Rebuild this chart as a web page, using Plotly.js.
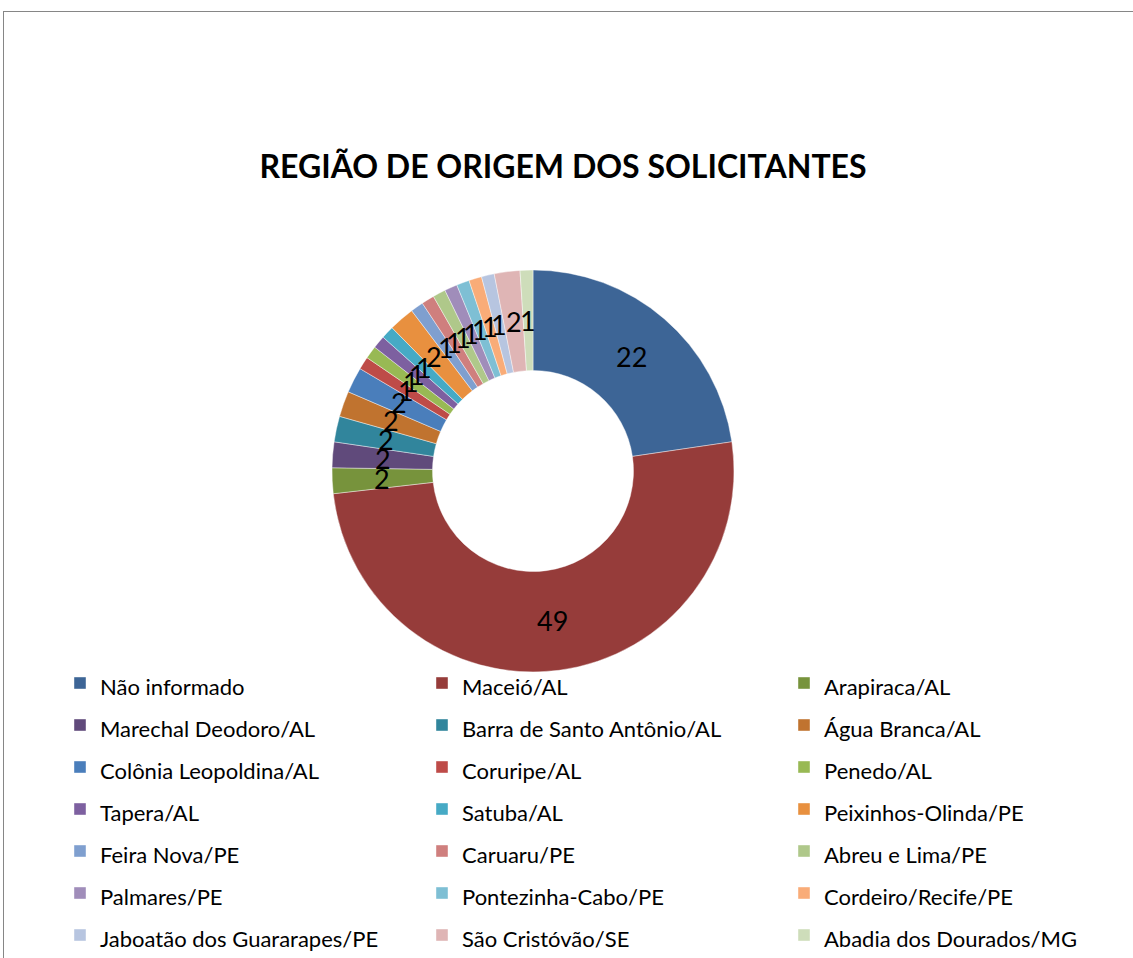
<!DOCTYPE html>
<html>
<head>
<meta charset="utf-8">
<script src="https://cdn.plot.ly/plotly-3.0.1.min.js"></script>
<style>
  html, body { margin: 0; padding: 0; background: #fff; overflow: hidden; }
  #frame { position: absolute; left: 3px; top: 11px; width: 1200px; height: 1000px;
           border-left: 1px solid #868686; border-top: 1px solid #868686; }
  #chart { position: absolute; left: 0; top: 0; width: 1133px; height: 958px; }
</style>
</head>
<body>
<div id="frame"></div>
<div id="chart"></div>
<script>
const categories = [
  "Não informado", "Maceió/AL", "Arapiraca/AL",
  "Marechal Deodoro/AL", "Barra de Santo Antônio/AL", "Água Branca/AL",
  "Colônia Leopoldina/AL", "Coruripe/AL", "Penedo/AL",
  "Tapera/AL", "Satuba/AL", "Peixinhos-Olinda/PE",
  "Feira Nova/PE", "Caruaru/PE", "Abreu e Lima/PE",
  "Palmares/PE", "Pontezinha-Cabo/PE", "Cordeiro/Recife/PE",
  "Jaboatão dos Guararapes/PE", "São Cristóvão/SE", "Abadia dos Dourados/MG"
];
const values = [22, 49, 2, 2, 2, 2, 2, 1, 1, 1, 1, 2, 1, 1, 1, 1, 1, 1, 1, 2, 1];
const colors = [
  "#3D6596", "#963C3A", "#77933C",
  "#604A7B", "#31859C", "#C0732F",
  "#4A7EBB", "#BE4B48", "#98B954",
  "#7D60A0", "#46AAC5", "#E8903F",
  "#7F9FCF", "#CF7F7E", "#AFC88A",
  "#A08DBA", "#7EBFD4", "#F9AC78",
  "#B7C5E0", "#DFB5B5", "#CEDDBA"
];
const titleText = "REGIÃO DE ORIGEM DOS SOLICITANTES";

const W = 1133, H = 958;
// pie geometry (pixels)
const cx = 533, cy = 471, R = 201, holeFrac = 0.5;
const dom = {
  x: [(cx - R) / W, (cx + R) / W],
  y: [(H - (cy + R)) / H, (H - (cy - R)) / H]
};

const FONT = "Lato, 'Open Sans', sans-serif";

const trace = {
  type: "pie",
  labels: categories.map(c => '<span style="font-size:22px">' + c + '</span>'),
  values: values,
  sort: false,
  direction: "clockwise",
  rotation: 0,
  hole: holeFrac,
  textinfo: "none",
  marker: { colors: colors, line: { color: "rgba(255,255,255,0.7)", width: 0.6 } },
  domain: dom,
  showlegend: true,
  hoverinfo: "label+value"
};

// value labels at middle of ring, computed from data
const total = values.reduce((a, b) => a + b, 0);
const rMid = R * (1 + holeFrac) / 2;
let cum = 0;
const annotations = values.map(v => {
  const mid = (cum + v / 2) / total * 2 * Math.PI;
  cum += v;
  const px = cx + rMid * Math.sin(mid);
  const py = cy - rMid * Math.cos(mid);
  return {
    x: px / W, y: 1 - py / H, xref: "paper", yref: "paper",
    text: String(v), showarrow: false,
    font: { family: FONT, size: 27, color: "#000" },
    xanchor: "center", yanchor: "middle"
  };
});

const layout = {
  width: W, height: H,
  margin: { l: 0, r: 0, t: 0, b: 0, autoexpand: false },
  paper_bgcolor: "rgba(0,0,0,0)",
  plot_bgcolor: "rgba(0,0,0,0)",
  font: { family: FONT, color: "#000" },
  title: {
    text: "<b>" + titleText + "</b>",
    font: { family: FONT, size: 32, color: "#000" },
    x: 563 / W, xanchor: "center",
    y: 1 - 167 / H, yanchor: "middle"
  },
  showlegend: true,
  legend: {
    orientation: "h",
    x: 60 / W, xanchor: "left",
    y: 1 - 657 / H, yanchor: "top",
    entrywidth: 317, entrywidthmode: "pixels",
    font: { family: FONT, size: 30, color: "#000" },
    traceorder: "normal",
    bgcolor: "rgba(0,0,0,0)"
  },
  annotations: annotations
};

Plotly.newPlot("chart", [trace], layout, { displayModeBar: false, staticPlot: true });
</script>
</body>
</html>
